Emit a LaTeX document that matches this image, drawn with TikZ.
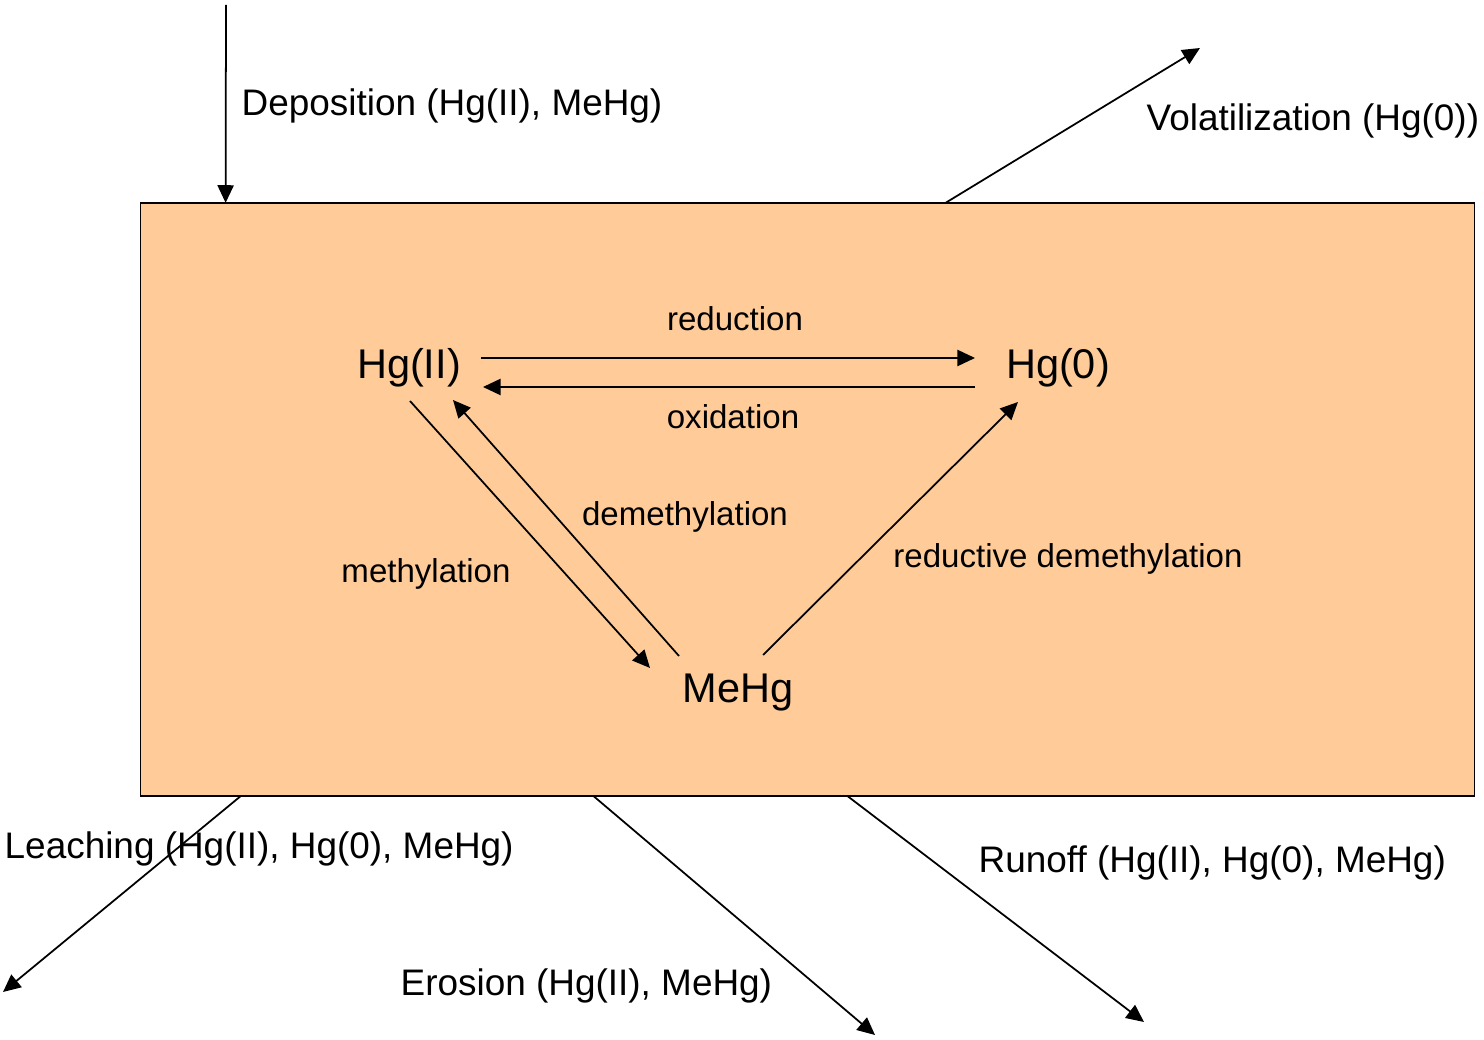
\documentclass[tikz,border=0pt]{standalone}
\usepackage{fontspec}
\setmainfont{Liberation Sans}
\usetikzlibrary{arrows.meta}
\definecolor{soilfill}{HTML}{FFCC99}

\begin{document}
\begin{tikzpicture}[x=0.01cm,y=-0.01cm,
  flow/.style={-{Triangle[length=5pt,width=4.6pt]},line width=0.5pt},
  species/.style={inner sep=0pt,font=\fontsize{11.8}{14}\selectfont},
  proc/.style={inner sep=0pt,font=\fontsize{9.4}{11}\selectfont},
  flux/.style={inner sep=0pt,anchor=west,font=\fontsize{10.5}{12}\selectfont}]
  \useasboundingbox (0,0) rectangle (1484,1040);
  \node[draw,fill=soilfill,line width=0.4pt,outer sep=0pt,minimum width=13.33cm,minimum height=5.93cm,inner sep=0pt] (soil) at (807.5,499.5) {};
  \node[species] (hg2) at (409,368) {Hg(II)};
  \node[species] (hg0) at (1058,368) {Hg(0)};
  \node[species] (mehg) at (738,693) {MeHg};
  \coordinate (dep) at (226,5);
  \coordinate (vol) at (1200,48);
  \coordinate (leach) at (3,992);
  \coordinate (eros) at (875,1035);
  \coordinate (run) at (1144,1022);
  % transformations inside the soil
  \draw[flow] ([shift={(72,-10)}]hg2.center) -- ([shift={(-83,-10)}]hg0.center);
  \draw[flow] ([shift={(-83,19)}]hg0.center) -- ([shift={(74,19)}]hg2.center);
  \draw[flow] ([shift={(1,33)}]hg2.center) -- ([shift={(-88,-25)}]mehg.center);
  \draw[flow] ([shift={(-59,-37)}]mehg.center) -- ([shift={(44,32)}]hg2.center);
  \draw[flow] ([shift={(25,-38)}]mehg.center) -- ([shift={(-40,34)}]hg0.center);
  \node[proc] (red) at (735,319) {reduction};
  \node[proc] (ox) at (733,417) {oxidation};
  \node[proc] (demeth) at (685,517) {demethylation};
  \node[proc] (meth) at (426,574) {methylation};
  \node[proc] (rdemeth) at (1068,559) {reductive demethylation};
  % fluxes in and out
  \draw[flow] (dep) -- ([shift={(85,0)}]soil.north west);
  \draw[flow] ([shift={(805,0)}]soil.north west) -- (vol);
  \node[flux] (deplab) at (241,106) {Deposition (Hg(II), MeHg)};
  \node[flux] (vollab) at (1146,121) {Volatilization (Hg(0))};
  \node[flux] (leachlab) at (4,849) {Leaching (Hg(II), Hg(0), MeHg)};
  \node[flux] (eroslab) at (400,986) {Erosion (Hg(II), MeHg)};
  \node[flux] (runlab) at (978,863) {Runoff (Hg(II), Hg(0), MeHg)};
  \draw[flow] ([shift={(100,0)}]soil.south west) -- (leach);
  \draw[flow] ([shift={(453,0)}]soil.south west) -- (eros);
  \draw[flow] ([shift={(707,0)}]soil.south west) -- (run);
\end{tikzpicture}
\end{document}
